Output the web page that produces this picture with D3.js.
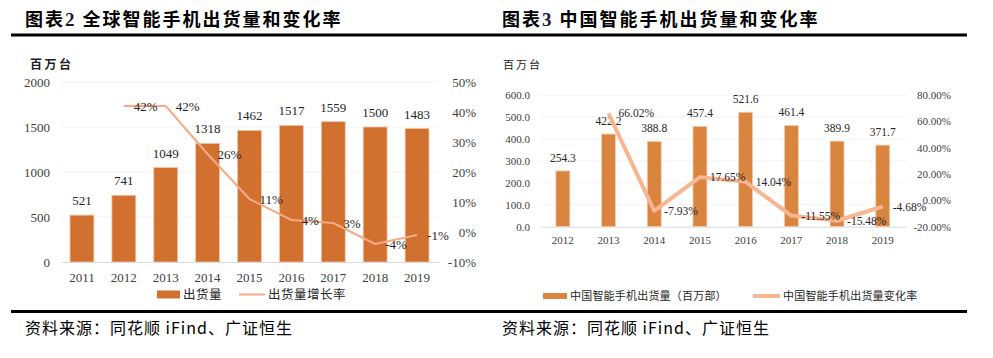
<!DOCTYPE html>
<html><head><meta charset="utf-8">
<script src="https://cdn.jsdelivr.net/npm/d3@7"></script>
<style>
body{margin:0;background:#fff;}
svg{display:block;}
</style></head>
<body>
<svg id="c" width="993" height="358"></svg>
<script>
// ---- data ----
const titleL = ["图表","2"," 全球智能手机出货量和变化率"];
const titleR = ["图表","3"," 中国智能手机出货量和变化率"];
const unitLabel = "百万台";
const sourceText = "资料来源：同花顺 iFind、广证恒生";

const globalYears = ["2011","2012","2013","2014","2015","2016","2017","2018","2019"];
const globalShipments = [521,741,1049,1318,1462,1517,1559,1500,1483];
const globalGrowthYears = ["2012","2013","2014","2015","2016","2017","2018","2019"];
const globalGrowth = [42,42,26,11,4,3,-4,-1];
const globalLeftTicks = [0,500,1000,1500,2000];
const globalRightTicks = [-10,0,10,20,30,40,50];
const globalLegend = ["出货量","出货量增长率"];

const chinaYears = ["2012","2013","2014","2015","2016","2017","2018","2019"];
const chinaShipments = [254.3,422.2,388.8,457.4,521.6,461.4,389.9,371.7];
const chinaGrowthYears = ["2013","2014","2015","2016","2017","2018","2019"];
const chinaGrowth = [66.02,-7.93,17.65,14.04,-11.55,-15.48,-4.68];
const chinaLeftTicks = [0,100,200,300,400,500,600];
const chinaRightTicks = [-20,0,20,40,60,80];
const chinaLegend = ["中国智能手机出货量（百万部）","中国智能手机出货量变化率"];

// ---- drawing ----
const svg = d3.select("#c");
const CJK = "'Noto Sans CJK SC','Noto Sans',sans-serif";
const SERIF = "'Liberation Serif','Times New Roman',serif";

// rules
svg.append("rect").attr("x",11).attr("y",33.5).attr("width",956).attr("height",3).attr("fill","#000");
svg.append("rect").attr("x",11).attr("y",310).attr("width",956).attr("height",3).attr("fill","#000");

function title(x, parts){
  const t = svg.append("text").attr("x",x).attr("y",26).attr("font-family",CJK).attr("font-weight",700)
    .attr("font-size",18).attr("letter-spacing",2).attr("fill","#000");
  t.append("tspan").text(parts[0]);
  t.append("tspan").attr("font-family",SERIF).attr("font-size",19).attr("fill","#1a1a2e").text(parts[1]);
  t.append("tspan").text(parts[2]);
}
title(25,titleL); title(502,titleR);
function source(x){
  svg.append("text").attr("x",x).attr("y",334).attr("font-family",CJK).attr("font-size",16)
    .attr("letter-spacing",1).attr("fill","#000").text(sourceText);
}
source(25); source(502);

function chart(o){
  const g = svg.append("g");
  const x = d3.scaleBand().domain(o.years).range(o.xr).paddingInner(o.pad).paddingOuter(o.pad/2);
  const yL = d3.scaleLinear().domain(o.lDom).range([o.y0,o.y1]);
  const yR = d3.scaleLinear().domain(o.rDom).range([o.y0,o.y1]);
  const cx = d => x(d)+x.bandwidth()/2;

  // faint gridlines
  g.append("g").selectAll("line").data(o.lTicks.slice(1)).join("line")
    .attr("x1",o.xr[0]).attr("x2",o.xr[1]).attr("y1",d=>yL(d)).attr("y2",d=>yL(d))
    .attr("stroke","#f3f3f3").attr("stroke-width",1);

  // unit
  g.append("text").attr("x",o.unitX).attr("y",69).attr("font-family",CJK).attr("font-size",o.unitSize)
    .attr("font-weight",o.unitWeight).attr("letter-spacing",o.unitLs).attr("fill","#222").text(unitLabel);

  // left axis
  const la = g.append("g").attr("transform",`translate(${o.lAxisX+3},0)`)
    .call(d3.axisLeft(yL).tickValues(o.lTicks).tickSize(0).tickPadding(3).tickFormat(o.lFmt));
  la.select(".domain").remove();
  la.selectAll("text").attr("font-family",SERIF).attr("font-size",o.fs).attr("fill","#404040");

  // right axis
  const ra = g.append("g").attr("transform",`translate(${o.rAxisX},0)`)
    .call(d3.axisRight(yR).tickValues(o.rTicks).tickSize(0).tickPadding(0).tickFormat(o.rFmt));
  ra.select(".domain").remove();
  ra.selectAll("text").attr("text-anchor","end").attr("font-family",SERIF).attr("font-size",o.fs).attr("fill","#404040");

  // bars
  g.append("g").selectAll("rect").data(o.years).join("rect")
    .attr("x",d=>x(d)).attr("width",x.bandwidth())
    .attr("y",(d,i)=>yL(o.vals[i])).attr("height",(d,i)=>yL(0)-yL(o.vals[i]))
    .attr("fill",o.barColor).attr("stroke",o.barStroke).attr("stroke-width",0.8);

  // bottom axis
  const ba = g.append("g").attr("transform",`translate(0,${o.y0})`)
    .call(d3.axisBottom(x).tickSize(0).tickPadding(o.xPad));
  ba.select(".domain").attr("stroke","#d9d9d9").attr("stroke-width",1);
  ba.selectAll("text").attr("font-family",SERIF).attr("font-size",o.fs).attr("fill","#404040");

  // bar labels
  g.append("g").selectAll("text").data(o.years).join("text")
    .attr("x",d=>cx(d)).attr("y",(d,i)=>yL(o.vals[i])-o.valOff).attr("text-anchor","middle")
    .attr("font-family",SERIF).attr("font-size",o.vfs).attr("fill","#262626")
    .text((d,i)=>o.vFmt(o.vals[i]));

  // line
  const line = d3.line().x((d,i)=>cx(o.gYears[i])).y(d=>yR(d));
  g.append("path").datum(o.growth).attr("d",line).attr("fill","none")
    .attr("stroke",o.lineColor).attr("stroke-width",o.lw).attr("stroke-linejoin","round");

  g.append("g").selectAll("text").data(o.growth).join("text")
    .attr("x",(d,i)=>cx(o.gYears[i])+10).attr("y",d=>yR(d)).attr("dy","0.35em")
    .attr("font-family",SERIF).attr("font-size",o.vfs).attr("fill","#262626")
    .text(o.gFmt);

  // legend
  const L = o.leg;
  g.append("rect").attr("x",L.bx).attr("y",L.y-L.bh/2).attr("width",L.bw).attr("height",L.bh).attr("fill",o.barColor);
  g.append("text").attr("x",L.bx+L.bw+3).attr("y",L.y).attr("dy","0.35em").attr("font-family",CJK)
    .attr("font-size",L.fs).attr("letter-spacing",L.ls).attr("fill","#262626").text(o.legend[0]);
  g.append("line").attr("x1",L.lx).attr("x2",L.lx+L.lwid).attr("y1",L.y).attr("y2",L.y)
    .attr("stroke",o.lineColor).attr("stroke-width",o.lw);
  g.append("text").attr("x",L.lx+L.lwid+3).attr("y",L.y).attr("dy","0.35em").attr("font-family",CJK)
    .attr("font-size",L.fs).attr("letter-spacing",L.ls).attr("fill","#262626").text(o.legend[1]);
}

chart({
  years:globalYears, vals:globalShipments, gYears:globalGrowthYears, growth:globalGrowth,
  xr:[61,438], pad:0.43, lDom:[0,2000], rDom:[-10,50], y0:262, y1:82,
  lTicks:globalLeftTicks, rTicks:globalRightTicks, lFmt:d=>d, rFmt:d=>d+"%",
  lAxisX:50, rAxisX:476, fs:13, vfs:13, xPad:11, valOff:10,
  vFmt:d=>d, gFmt:d=>d+"%",
  barColor:"#d2702f", barStroke:"#f2c6a6", lineColor:"#f4ab86", lw:2,
  unitX:30, unitSize:12, unitWeight:700, unitLs:2.5,
  legend:globalLegend,
  leg:{bx:157,bw:23,bh:8,y:294.5,lx:239,lwid:26,fs:12.5,ls:0.5}
});

chart({
  years:chinaYears, vals:chinaShipments, gYears:chinaGrowthYears, growth:chinaGrowth,
  xr:[540,905.6], pad:0.694, lDom:[0,600], rDom:[-20,80], y0:226.7, y1:95,
  lTicks:chinaLeftTicks, rTicks:chinaRightTicks, lFmt:d3.format(".1f"), rFmt:d=>d.toFixed(2)+"%",
  lAxisX:530, rAxisX:951, fs:11, vfs:11.5, xPad:9.5, valOff:9,
  vFmt:d=>d.toFixed(1), gFmt:d=>d.toFixed(2)+"%",
  barColor:"#d9843f", barStroke:"#f4d2b6", lineColor:"#f7b592", lw:4,
  unitX:503, unitSize:11, unitWeight:400, unitLs:2,
  legend:chinaLegend,
  leg:{bx:543,bw:24,bh:6,y:296,lx:753,lwid:27,fs:11,ls:0.2}
});
</script>
</body></html>
